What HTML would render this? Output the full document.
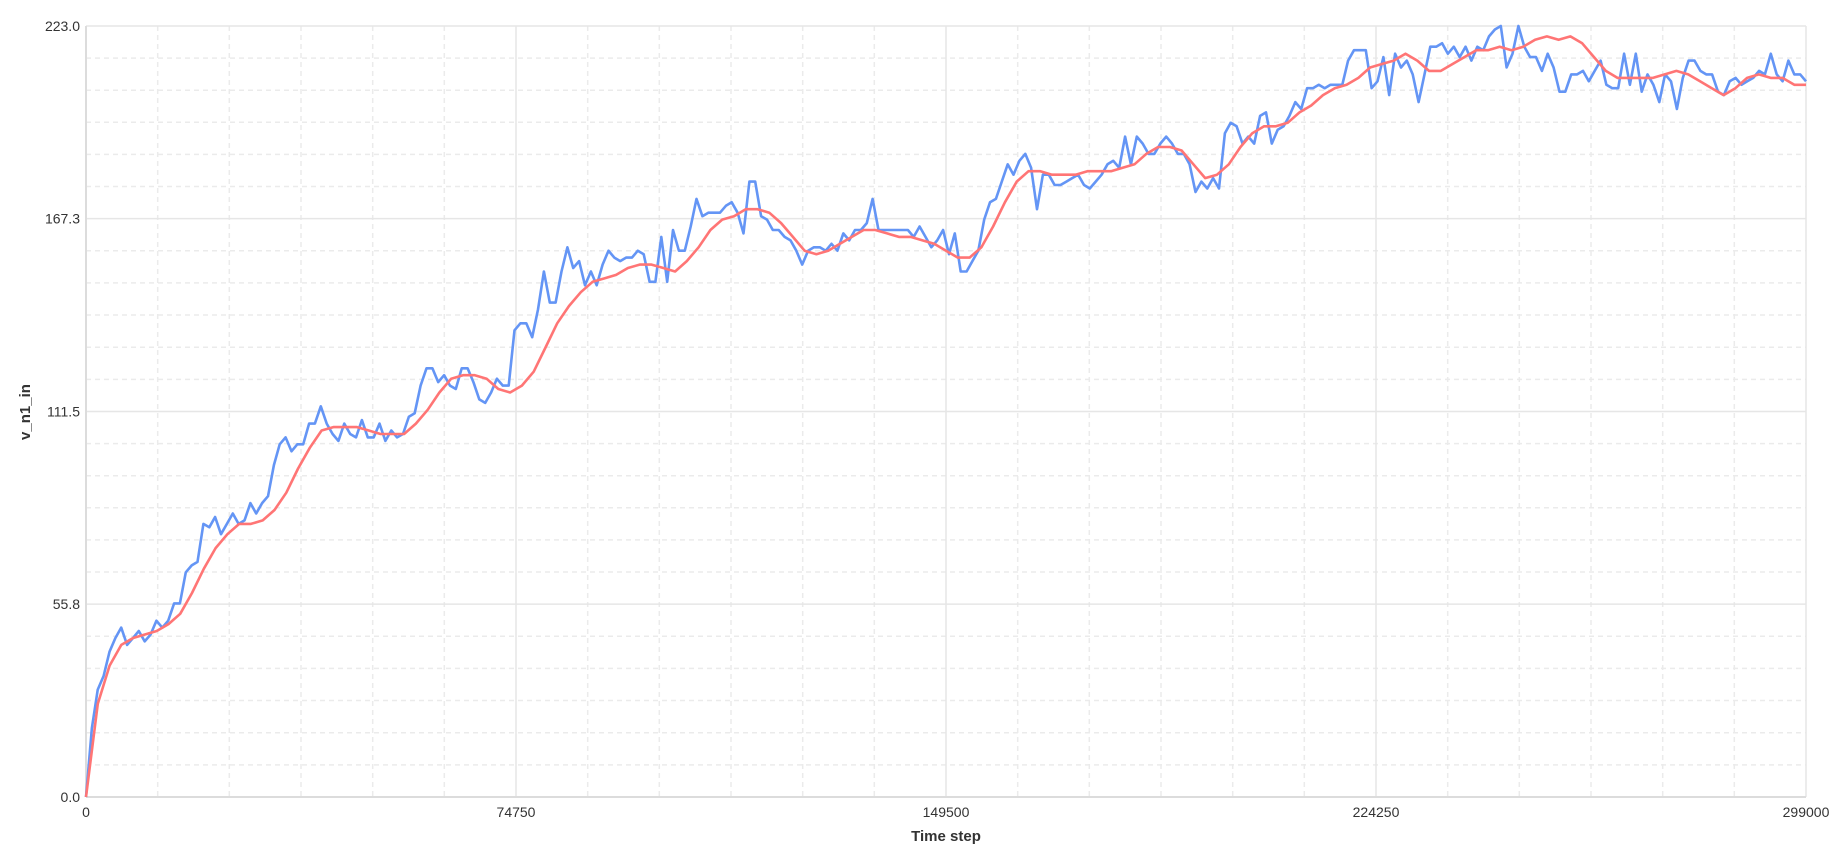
<!DOCTYPE html>
<html><head><meta charset="utf-8">
<style>
html,body{margin:0;padding:0;background:#fff;}
svg{display:block;font-family:"Liberation Sans",sans-serif;}
</style></head>
<body>
<svg id="chart" width="1842" height="853" viewBox="0 0 1842 853" xmlns="http://www.w3.org/2000/svg">
<g id="grid"></g>
<g id="axes"></g>
<g id="series"></g>
<text x="0" y="0" transform="translate(30,412) rotate(-90)" text-anchor="middle" font-size="15" font-weight="bold" fill="#333">v_n1_in</text>
<text x="946" y="841" text-anchor="middle" font-size="15" font-weight="bold" fill="#333">Time step</text>
</svg>
<script>
const xTicks = [0, 74750, 149500, 224250, 299000];
const yTicks = [0.0, 55.8, 111.5, 167.3, 223.0];
const xMax = 299000, yMax = 223.0;
const sampleStep = 1020.5;
const blueValues = [0,20,31,35,42,46,49,44,46,48,45,47,51,49,51,56,56,65,67,68,79,78,81,76,79,82,79,80,85,82,85,87,96,102,104,100,102,102,108,108,113,108,105,103,108,105,104,109,104,104,108,103,106,104,105,110,111,119,124,124,120,122,119,118,124,124,120,115,114,117,121,119,119,135,137,137,133,141,152,143,143,152,159,153,155,148,152,148,154,158,156,155,156,156,158,157,149,149,162,149,164,158,158,165,173,168,169,169,169,171,172,169,163,178,178,168,167,164,164,162,161,158,154,158,159,159,158,160,158,163,161,164,164,166,173,164,164,
164,164,164,164,162,165,162,159,161,164,157,163,152,152,155,158,167,172,173,178,183,180,184,186,182,170,180,180,177,177,178,179,180,177,176,178,180,183,184,182,191,183,191,189,186,186,189,191,189,186,186,183,175,178,176,179,176,192,195,194,189,191,189,197,198,189,193,194,197,201,199,205,205,206,205,206,206,206,213,216,216,216,205,207,214,203,215,211,213,209,201,209,217,217,218,215,217,214,217,213,217,216,220,222,223,211,215,223,217,214,214,210,215,211,204,204,209,209,210,207,210,213,206,205,205,215,206,215,204,209,206,201,209,207,199,208,213,213,210,209,209,204,203,207,208,206,207,208,210,209,215,209,207,213,209,209,207];
const redValues = [0,27,38,44,46,47,48,50,53,59,66,72,76,79,79,80,83,88,95,101,106,107,107,107,106,105,105,105,108,112,117,121,122,122,121,118,117,119,123,130,137,142,146,149,150,151,153,154,154,153,152,155,159,164,167,168,170,170,169,166,162,158,157,158,160,162,164,164,163,162,162,161,160,158,156,156,159,165,172,178,181,181,180,180,180,181,181,181,182,183,186,188,188,187,183,179,180,183,188,192,194,194,195,198,200,203,205,206,208,211,212,213,215,213,210,210,212,214,216,216,217,216,217,219,220,219,220,218,214,210,208,208,208,208,209,210,209,207,205,203,205,208,209,208,208,206,206];

const L = 86, R = 1806, T = 26, B = 797;
const NS = "http://www.w3.org/2000/svg";
function sx(v){ return L + v / xMax * (R - L); }
function sy(v){ return B - v / yMax * (B - T); }
function mk(tag, attrs, parent){
  const e = document.createElementNS(NS, tag);
  for (const k in attrs) e.setAttribute(k, attrs[k]);
  parent.appendChild(e);
  return e;
}
const grid = document.getElementById('grid');
const axes = document.getElementById('axes');
const series = document.getElementById('series');

for (let i = 0; i < 4; i++) {
  for (let j = 1; j < 6; j++) {
    const xv = xTicks[i] + (xTicks[i+1] - xTicks[i]) * j / 6;
    const l = mk('line', {x1: sx(xv), x2: sx(xv), y1: T, y2: B, stroke: '#ebebeb', 'stroke-width': 1.5, 'stroke-dasharray': '5,4'}, grid);
    
    
    const yv = yTicks[i] + (yTicks[i+1] - yTicks[i]) * j / 6;
    const h = mk('line', {x1: L, x2: R, y1: sy(yv), y2: sy(yv), stroke: '#ebebeb', 'stroke-width': 1.5, 'stroke-dasharray': '5,4'}, grid);
    
    
  }
}
xTicks.forEach((v, i) => {
  const l = mk('line', {x1: sx(v), x2: sx(v), y1: T, y2: B, stroke: '#e6e6e6', 'stroke-width': 1.5}, grid);
  
  
  const t = mk('text', {x: sx(v), y: 817, 'text-anchor': 'middle', 'font-size': 14, fill: '#333'}, axes);
  t.textContent = String(v);
  
  
});
yTicks.forEach((v, i) => {
  const l = mk('line', {x1: L, x2: R, y1: sy(v), y2: sy(v), stroke: '#e6e6e6', 'stroke-width': 1.5}, grid);
  
  
  const t = mk('text', {x: 80, y: sy(v) + 5, 'text-anchor': 'end', 'font-size': 14, fill: '#333'}, axes);
  t.textContent = v.toFixed(1);
  
  
});
const ya = mk('line', {x1: L, x2: L, y1: T, y2: B, stroke: '#dcdcdc', 'stroke-width': 2}, axes);


const xa = mk('line', {x1: L, x2: R, y1: B, y2: B, stroke: '#dcdcdc', 'stroke-width': 2}, axes);



let bp = blueValues.map((v, i) => sx(i * sampleStep).toFixed(1) + ',' + sy(v).toFixed(1)).join(' ');
const blue = mk('polyline', {points: bp, fill: 'none', stroke: '#6495f5', 'stroke-width': 2.6, 'stroke-linejoin': 'round'}, series);


const redSpan = (blueValues.length - 1) * sampleStep / (redValues.length - 1);
let rp = redValues.map((v, i) => sx(i * redSpan).toFixed(1) + ',' + sy(v).toFixed(1)).join(' ');
const red = mk('polyline', {points: rp, fill: 'none', stroke: '#ff7575', 'stroke-width': 2.6, 'stroke-linejoin': 'round'}, series);


</script>
</body></html>
